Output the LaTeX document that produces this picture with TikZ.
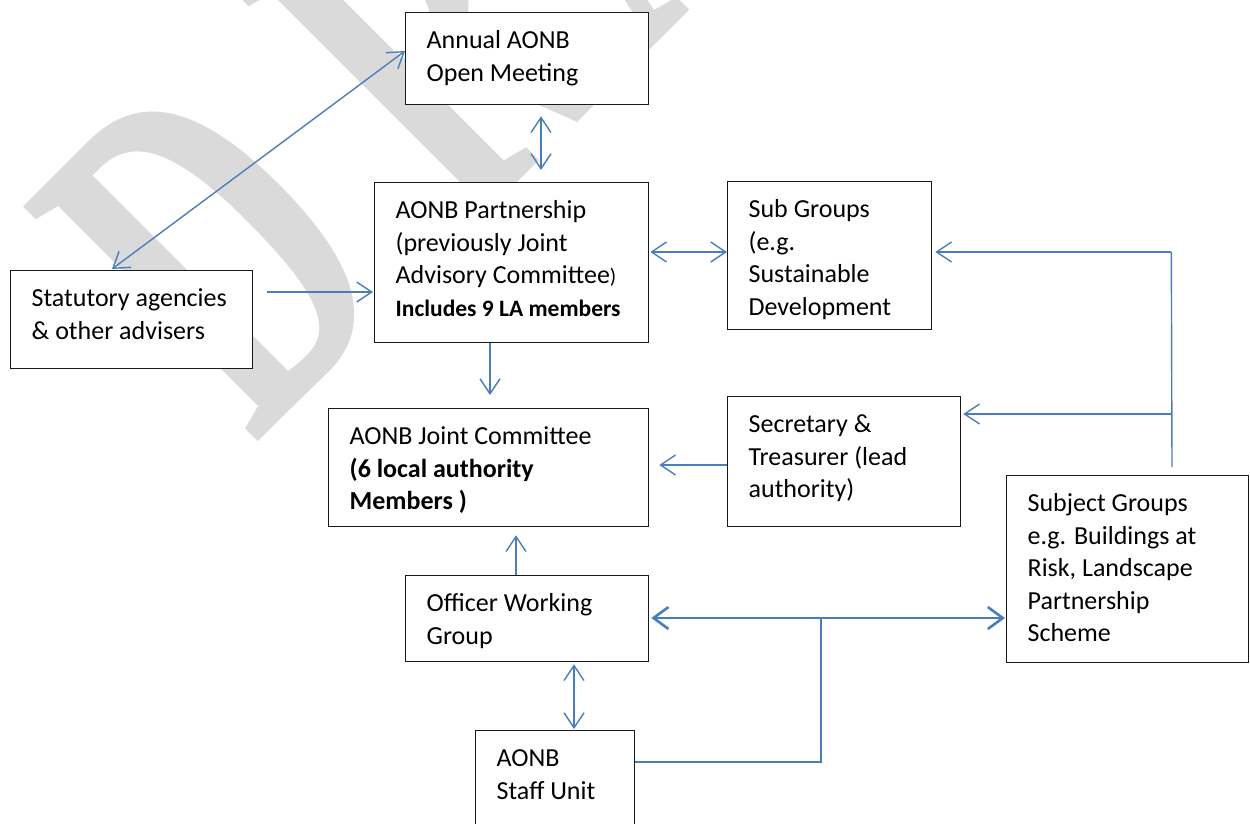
\documentclass[tikz,border=0pt]{standalone}
\usepackage{graphicx}
\usepackage{fontspec}
\setmainfont{Carlito}
\newfontfamily\wmfont{Liberation Serif}
\usetikzlibrary{arrows.meta,calc}
\definecolor{connblue}{HTML}{4A7EBB}
\definecolor{wmgray}{RGB}{218,218,218}
\newcommand\boxtxt[3]{\begin{minipage}[c][#2][t]{#1}\raggedright\leftskip=21pt\relax\fontsize{26}{32.5}\selectfont\rule{0pt}{36pt}#3\end{minipage}}
\begin{document}
\begin{tikzpicture}[x=1pt,y=-1pt,
  box/.style={draw=black!90, line width=1.3pt, fill=white, inner sep=0pt, anchor=north west},
  conn/.style={draw=connblue, line width=1.4pt, >={Straight Barb[length=15pt,width=20pt]}},
  heavyconn/.style={draw=connblue, line width=2.6pt, >={Straight Barb[length=15pt,width=22pt]}},
  midconn/.style={draw=connblue, line width=1.9pt}
]
\useasboundingbox[fill=white] (0,0) rectangle (1250,823);

% watermark
\node[rotate=45, anchor=base west, inner sep=0pt, text=wmgray] (wm) at (254,446)
  {\scalebox{1}[1.69]{\wmfont\bfseries\fontsize{300}{300}\selectfont D\kern85pt R\kern35pt A\kern35pt F\kern35pt T}};

% boxes
\node[box] (annual) at (405,12) {\boxtxt{243pt}{92pt}{Annual AONB\\Open Meeting}};
\node[box] (partner) at (374,182) {\boxtxt{274pt}{160pt}{AONB Partnership\\(previously Joint\\Advisory Committee{\fontsize{21}{32.5}\selectfont )}\\{\bfseries\fontsize{23.5}{31}\selectfont Includes 9 LA members}}};
\node[box] (stat) at (10,270) {\boxtxt{242pt}{98pt}{Statutory agencies\\\& other advisers}};
\node[box] (sub) at (727,181) {\boxtxt{204pt}{148pt}{Sub Groups\\(e.g.\\Sustainable\\Development}};
\node[box] (joint) at (328,408) {\boxtxt{320pt}{118pt}{AONB Joint Committee\\{\bfseries (6 local authority}\\{\bfseries Members )}}};
\node[box] (sec) at (727,396) {\boxtxt{233pt}{130pt}{Secretary \&\\Treasurer (lead\\authority)}};
\node[box] (subj) at (1006,475) {\boxtxt{242pt}{187pt}{Subject Groups\\e.g. Buildings at\\Risk, Landscape\\Partnership\\Scheme}};
\node[box] (officer) at (405,575) {\boxtxt{243pt}{86pt}{Officer Working\\Group}};
\node[box] (staff) at (475,730) {\boxtxt{159pt}{130pt}{AONB\\Staff Unit}};

% connectors
\draw[conn,<->] ($(stat.north west)+(102,-1)$) -- ($(annual.north west)+(0,39)$);
\draw[conn,<->] ($(annual.south west)+(136,11)$) -- ($(partner.north west)+(167,-12)$);
\draw[conn,->] ($(stat.north east)+(14,22)$) -- ($(partner.north west)+(-1,110)$);
\draw[conn,<->] ($(partner.north east)+(1,70)$) -- ($(sub.north west)+(0,71)$);
\draw[conn,->] ($(partner.south west)+(116,0)$) -- ($(joint.north west)+(162,-13)$);

\coordinate (rt) at ($(sub.north east)+(239,71)$);
\coordinate (rm) at ($(sec.north east)+(211,18)$);
\coordinate (rb) at ($(subj.north west)+(166,-8)$);
\draw[conn] (rt) -- (rb);
\draw[conn,->] (rt) -- ($(sub.north east)+(3,71)$);
\draw[conn,->] (rm) -- ($(sec.north east)+(2,18)$);

\draw[conn,->] ($(sec.north west)+(0,69)$) -- ($(joint.north east)+(10,57)$);
\draw[conn,->] ($(officer.north west)+(111,0)$) -- ($(joint.south west)+(188,8)$);
\draw[heavyconn,<->] ($(officer.north east)+(2,43)$) -- ($(subj.north west)+(-1,143)$);
\draw[conn,<->] ($(officer.south west)+(169,2)$) -- ($(staff.north west)+(99,-1)$);
\coordinate (jn) at ($(officer.north east)+(172,43)$);
\draw[midconn] ($(staff.north east)+(0,32)$) -| (jn);
\end{tikzpicture}
\end{document}
